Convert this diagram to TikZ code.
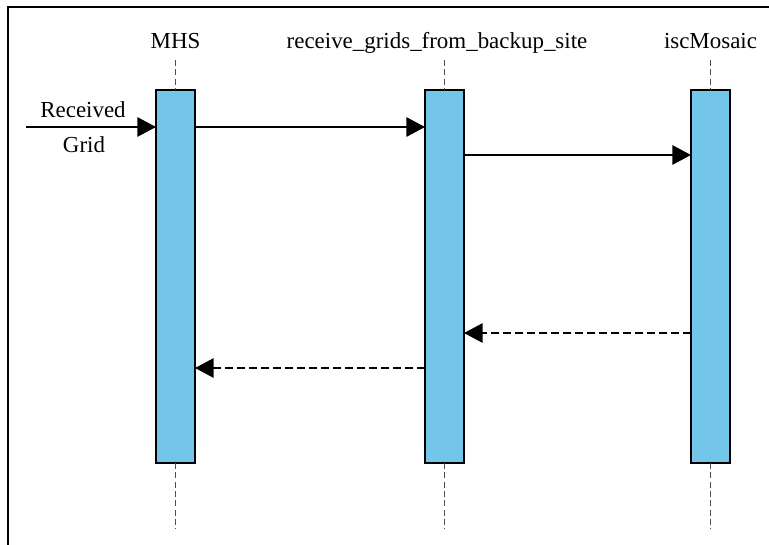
\documentclass[tikz,border=0pt]{standalone}
\usepackage{fontspec}
\setmainfont{Liberation Serif}
\usetikzlibrary{arrows.meta}
\definecolor{barblue}{RGB}{115,198,234}
\tikzset{
  bar/.style={draw=black, line width=1.1pt, fill=barblue, minimum width=29.25pt, minimum height=279.75pt, inner sep=0pt, outer sep=0pt},
  lifeline/.style={draw=black!70, line width=0.75pt, dash pattern=on 4.5pt off 2.5pt},
  lbl/.style={font=\fontsize{17.2}{20}\selectfont, inner sep=0pt, anchor=base},
  msg/.style={line width=1.5pt, -{Triangle[length=14pt, width=14.5pt]}},
  ret/.style={msg, dash pattern=on 6pt off 3pt}
}
\begin{document}
\begin{tikzpicture}[x=0.75pt, y=-0.75pt]
\useasboundingbox (0,0) rectangle (769,544);
\draw[line width=1.5pt] (8,560) -- (8,7) -- (780,7);
% labels
\node[lbl] (lmhs) at (175.5,48) {MHS};
\node[lbl] (lmid) at (437,48) {receive\_grids\_from\_backup\_site};
\node[lbl] (liso) at (710.5,48) {iscMosaic};
% bars
\node[bar] (mhs) at (175.5,276.5) {};
\node[bar] (mid) at (444.5,276.5) {};
\node[bar] (iso) at (710.5,276.5) {};
% lifelines
\coordinate (tA) at (175.5,60); \coordinate (bA) at (175.5,529);
\coordinate (tB) at (444.5,60); \coordinate (bB) at (444.5,529);
\coordinate (tC) at (710.5,60); \coordinate (bC) at (710.5,529);
\draw[lifeline] (tA) -- (mhs.north);
\draw[lifeline] (mhs.south) -- (bA);
\draw[lifeline] (tB) -- (mid.north);
\draw[lifeline] (mid.south) -- (bB);
\draw[lifeline] (tC) -- (iso.north);
\draw[lifeline] (iso.south) -- (bC);
% messages
\coordinate (start) at (26,127);
\coordinate (y1) at (0,127);
\coordinate (y2) at (0,155);
\coordinate (y3) at (0,333);
\coordinate (y4) at (0,368);
\draw[msg] (start) -- (mhs.west |- y1);
\node[lbl] (rcv) at (83,117) {Received};
\node[lbl] (grd) at (84,152) {Grid};
\draw[msg] (mhs.east |- y1) -- (mid.west |- y1);
\draw[msg] (mid.east |- y2) -- (iso.west |- y2);
\draw[ret] (iso.west |- y3) -- (mid.east |- y3);
\draw[ret] (mid.west |- y4) -- (mhs.east |- y4);
\end{tikzpicture}
\end{document}
